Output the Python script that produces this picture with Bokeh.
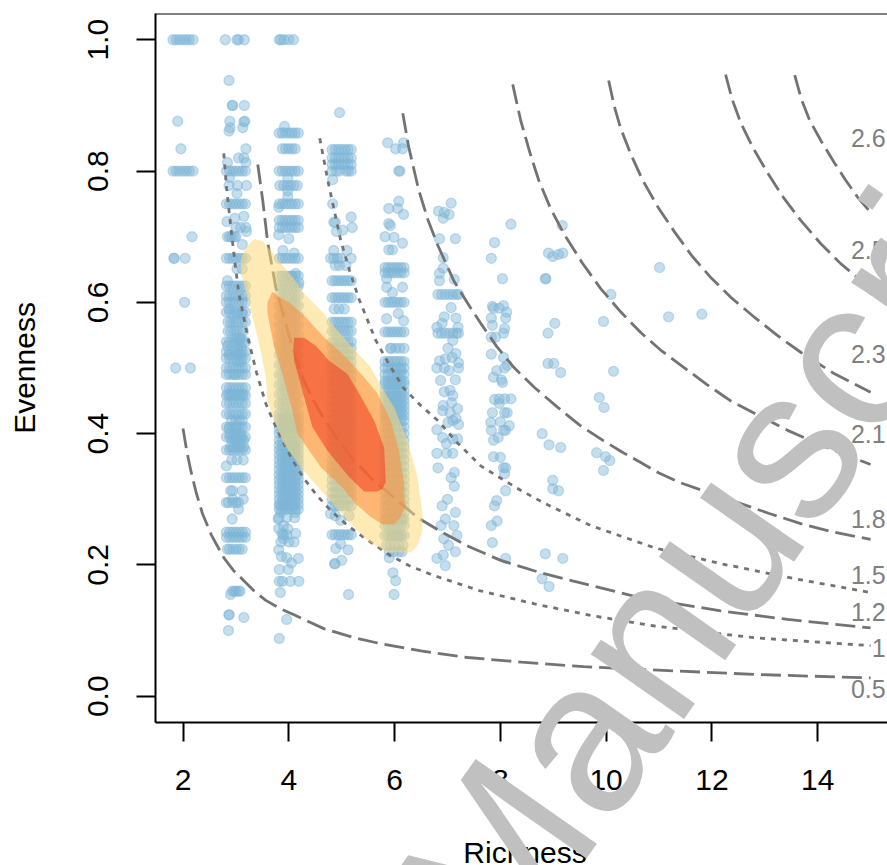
from bokeh.plotting import figure
from bokeh.layouts import column
from bokeh.models import Span, FixedTicker, ColumnDataSource, Range1d
from bokeh.core.properties import value
from bokeh.embed import file_html
from bokeh.resources import INLINE

x_ticks = [2, 4, 6, 8, 10, 12, 14]
y_ticks = [0.0, 0.2, 0.4, 0.6, 0.8, 1.0]
y_tick_labels = ["0.0", "0.2", "0.4", "0.6", "0.8", "1.0"]

# contour curves (richness, evenness)
c05_x = [2.0, 2.07, 2.147, 2.25, 2.369, 2.54, 2.771, 2.95, 3.15, 3.35, 3.565, 3.85, 4.13, 4.662, 5.2, 5.739, 6.5, 7.384, 8.4, 9.576, 10.654, 12.866, 15.0]
c05_y = [.408, .374, .344, .31, .278, .245, .211, .192, .176, .16, .146, .133, .123, .103, .09, .080, .069, .059, .052, .045, .041, .033, .028]
c10_x = [2.771, 2.828, 2.904, 2.98, 3.055, 3.225, 3.39, 3.565, 3.735, 3.906, 4.09, 4.284, 4.53, 4.794, 5.1, 5.418, 5.928, 6.3, 6.741, 7.6, 8.631, 9.708, 10.918, 12.809, 15.0]
c10_y = [.827, .771, .714, .662, .614, .547, .493, .446, .414, .385, .357, .332, .306, .283, .261, .242, .214, .198, .184, .161, .141, .123, .107, .089, .077]
c12_x = [3.414, 3.508, 3.603, 3.754, 3.943, 4.1, 4.284, 4.47, 4.662, 4.93, 5.229, 5.6, 5.985, 6.439, 6.873, 7.4, 8.008, 8.764, 9.652, 10.654, 12.166, 13.432, 15.0]
c12_y = [.810, .755, .690, .623, .568, .522, .481, .45, .423, .39, .359, .329, .303, .272, .251, .228, .207, .188, .170, .150, .130, .117, .104]
c15_x = [4.586, 4.737, 4.983, 5.15, 5.323, 5.645, 5.9, 6.174, 6.48, 6.817, 7.2, 7.629, 8.008, 8.4, 8.858, 9.708, 10.918, 12.166, 13.565, 15.0]
c15_y = [.850, .786, .694, .648, .606, .542, .505, .469, .444, .420, .385, .351, .332, .313, .293, .260, .226, .202, .179, .158]
c18_x = [6.155, 6.269, 6.457, 6.63, 6.817, 7.119, 7.37, 7.629, 7.93, 8.253, 8.65, 9.085, 9.5, 9.954, 10.3, 10.654, 11.0, 11.410, 11.95, 12.488, 13.1, 13.679, 14.3, 15.0]
c18_y = [.888, .836, .771, .726, .687, .633, .60, .568, .533, .501, .47, .440, .413, .389, .372, .356, .34, .325, .31, .295, .278, .263, .25, .239]
c21_x = [8.234, 8.385, 8.574, 8.726, 8.95, 9.198, 9.55, 9.897, 10.27, 10.654, 11.05, 11.467, 11.9, 12.355, 12.9, 13.432, 14.2, 15.0]
c21_y = [.932, .877, .824, .786, .743, .705, .66, .621, .586, .554, .526, .501, .475, .450, .427, .405, .378, .353]
c23_x = [10.048, 10.15, 10.275, 10.47, 10.691, 10.98, 11.296, 11.62, 11.977, 12.38, 12.809, 13.23, 13.679, 14.3, 15.0]
c23_y = [.938, .90, .865, .825, .786, .745, .707, .671, .638, .606, .577, .55, .524, .492, .463]
c25_x = [12.259, 12.38, 12.543, 12.78, 13.054, 13.35, 13.679, 14.05, 14.435, 15.0]
c25_y = [.947, .91, .874, .835, .797, .76, .725, .69, .659, .621]
c26_x = [13.565, 13.69, 13.849, 14.07, 14.321, 14.53, 14.756, 15.0]
c26_y = [.946, .91, .877, .845, .812, .786, .760, .737]

curve_labels = ["2.6", "2.5", "2.3", "2.1", "1.8", "1.5", "1.2", "1", "0.5"]
curve_label_y = [.850, .679, .522, .400, .270, .185, .129, .074, .011]
curve_label_x = [15.285] * 9

# density polygons
outer_x = [3.345, 3.502, 3.660, 3.849, 4.069, 4.290, 4.605, 4.920, 5.235, 5.550, 5.739, 5.991, 6.243, 6.432, 6.527, 6.527, 6.432, 6.306, 5.865, 5.487, 5.109, 4.668, 4.227, 3.912, 3.723, 3.597, 3.565, 3.439, 3.250, 3.093, 3.093, 3.187]
outer_y = [.696, .694, .679, .659, .639, .613, .588, .557, .529, .501, .473, .440, .390, .334, .278, .252, .229, .219, .219, .237, .268, .308, .349, .384, .420, .450, .486, .537, .598, .646, .666, .684]
mid_x = [3.691, 3.817, 4.006, 4.290, 4.668, 5.046, 5.424, 5.676, 5.928, 6.086, 6.180, 6.193, 6.117, 5.991, 5.771, 5.550, 5.267, 5.015, 4.605, 4.164, 4.069, 3.880, 3.723, 3.597, 3.597]
mid_y = [.616, .608, .600, .580, .547, .519, .486, .461, .420, .374, .323, .288, .273, .262, .262, .273, .293, .318, .349, .400, .435, .491, .532, .583, .600]
inner_x = [4.101, 4.290, 4.510, 4.763, 5.109, 5.330, 5.613, 5.802, 5.834, 5.771, 5.676, 5.424, 5.140, 4.731, 4.447, 4.290, 4.101, 4.088]
inner_y = [.546, .546, .534, .511, .491, .461, .420, .379, .326, .316, .312, .312, .334, .374, .410, .456, .511, .532]

# points: rows where many jittered sites share one evenness value
band2 = [1.81, 1.87, 1.93, 2.0, 2.06, 2.12, 2.19]
band3 = [2.82, 2.88, 2.94, 3.0, 3.06, 3.12, 3.18]
band4 = [3.82, 3.88, 3.94, 4.0, 4.06, 4.12, 4.18]
band5 = [4.82, 4.88, 4.94, 5.0, 5.06, 5.12, 5.18]
band6 = [5.82, 5.88, 5.94, 6.0, 6.06, 6.12, 6.18]
band7 = [6.82, 6.89, 6.96, 7.03, 7.1, 7.17, 7.21]
rows2 = [1.0, .8]
rows3 = [.8, .75, .667, .625, .61, .6, .585, .54, .525, .515, .5, .49, .47, .458, .446, .43, .41, .395, .375, .333, .25, .242]
rows4 = [.858, .8, .75, .725, .714, .667, .64, .625, .61, .595, .58, .565, .55, .535, .52, .505, .49, .475, .46, .445, .43,
         .4225, .415, .4075, .40, .39, .3825, .375, .3675, .36, .3525, .345, .3375, .33, .3225, .315, .3075, .30, .2925, .285]
rows5 = [.833, .82, .81, .633, .607, .57, .556, .54, .53, .52, .51, .50, .49, .48, .47, .46, .45, .44, .43, .42, .41, .40,
         .39, .38, .37, .36, .35, .34, .33, .32, .31, .30, .29, .246]
rows6 = [.653, .645, .60, .555, .51, .5, .49, .48, .475, .465, .4575, .45, .4425, .435, .4275, .42, .41, .40, .39, .38, .37, .36, .35, .34,
         .33, .32, .31, .30, .29, .28, .27, .26, .245]
rows7 = [.612, .553]

# single points
col2_x = [1.90, 1.96, 2.17, 1.83, 1.83, 2.04, 2.03, 1.86, 2.14]
col2_y = [.876, .834, .70, .667, .667, .667, .60, .50, .50]
col3_x = [2.80, 3.02, 3.05, 3.16, 2.87, 2.93, 2.94, 3.16, 2.885, 3.17, 2.89, 3.13, 2.87, 3.15, 3.19, 3.05, 3.15, 2.84, 3.19,
          2.87, 3.03, 3.2, 3.02, 2.88, 3.15, 2.98, 2.83, 2.84, 2.88, 2.92, 2.97, 3.0, 3.0, 3.09, 3.19, 3.2, 3.12, 3.02, 3.12, 2.84,
          2.87, 3.02, 3.12, 2.85, 2.9, 2.95, 3.0, 3.05, 3.12, 3.18, 2.85, 2.9, 2.96, 3.02, 3.08, 3.14, 3.0, 3.06, 3.1, 2.84, 3.04, 3.1,
          2.88, 3.02, 3.08, 3.03, 3.1, 2.98, 2.85, 2.9, 2.96, 3.02, 3.08, 3.14, 2.92, 3.0, 3.06, 3.12, 2.87, 3.0, 2.89, 2.98, 3.03, 3.09,
          2.92, 2.98, 3.04, 3.1, 3.15, 2.9, 2.96, 3.02, 3.08, 3.15, 2.92, 3.02, 3.14, 2.82, 2.9, 2.94, 3.12, 2.94, 3.14,
          2.82, 2.86, 2.94, 3.0, 3.05, 3.05, 2.93, 2.84, 2.88, 2.94, 3.0, 3.06, 3.12, 2.93, 2.97, 3.0, 3.05, 3.08, 2.9, 2.87, 2.87, 3.15, 2.86]
col3_y = [1.0, 1.0, 1.0, 1.0, .938, .9, .9, .9, .876, .876, .866, .866, .861, .875, .834, .82, .82, .813, .813,
          .778, .778, .778, .766, .79, .731, .728, .723, .70, .70, .70, .70, .70, .714, .714, .714, .708, .688, .651, .651, .633,
          .59, .583, .583, .57, .57, .57, .57, .57, .57, .57, .556, .556, .556, .556, .556, .556, .545, .545, .545, .534, .53, .53,
          .52, .52, .52, .51, .51, .49, .46, .46, .46, .46, .46, .46, .42, .42, .42, .42, .408, .408, .40, .40, .40, .40,
          .39, .39, .39, .39, .39, .38, .38, .38, .38, .38, .36, .36, .36, .351, .313, .313, .313, .30, .30,
          .295, .295, .295, .295, .295, .285, .27, .224, .224, .224, .224, .224, .224, .16, .16, .16, .16, .16, .155, .124, .124, .12, .10]
col4_x = [3.82, 3.85, 3.91, 4.0, 4.09, 3.92, 3.88, 3.94, 4.0, 4.06, 4.12, 3.83, 3.9, 3.97, 4.03, 4.1, 4.16, 3.98, 3.98, 3.81, 3.98, 3.81, 4.0,
          3.89, 4.1, 4.13, 4.19, 4.05, 3.81, 3.96, 4.11, 3.98, 3.81, 3.9, 3.96, 3.87, 4.13, 4.18, 3.81, 3.96, 3.86, 4.05, 3.9, 3.82, 3.99,
          3.82, 3.88, 4.03, 4.19, 3.84, 3.96, 3.9, 3.85, 4.0, 4.1, 3.8, 3.83, 3.9, 3.98, 4.08, 3.85, 4.12, 3.82]
col4_y = [1.0, 1.0, 1.0, 1.0, 1.0, .868, .834, .834, .834, .834, .834, .778, .778, .778, .778, .778, .778, .789, .77, .745, .761, .703, .697,
          .679, .675, .644, .63, .64, .272, .272, .272, .255, .255, .246, .246, .248, .248, .21, .223, .211, .213, .203, .26, .193, .193,
          .175, .175, .175, .175, .158, .117, .24, .235, .235, .235, .27, .29, .29, .29, .29, .28, .28, .088]
col5_x = [4.96, 5.13, 4.82, 4.9, 4.96, 5.08, 5.18, 4.83, 4.83, 4.85, 5.18, 5.2, 4.9, 4.88, 5.02, 4.85, 5.1, 4.79, 4.85, 4.92, 4.98, 5.18, 4.88,
          4.96, 5.08, 5.05, 4.86, 4.95, 4.88, 5.14, 4.79, 4.98, 4.89, 5.12, 4.98, 5.0, 4.87, 4.87, 5.13]
col5_y = [.889, .80, .80, .80, .80, .80, .80, .787, .75, .722, .73, .714, .708, .722, .71, .679, .679, .667, .667, .667, .667, .667, .656,
          .656, .656, .59, .59, .59, .275, .275, .278, .268, .225, .223, .232, .207, .202, .202, .155]
col6_x = [5.87, 6.02, 6.17, 6.15, 6.08, 6.1, 6.08, 5.89, 6.06, 6.17, 5.89, 5.92, 5.82, 5.99, 6.15, 5.89, 5.96, 5.85, 5.85, 6.15, 5.96, 6.07,
          5.85, 6.17, 5.92, 6.02, 6.1, 6.18, 5.94, 6.0, 6.06, 6.12, 5.85, 5.95, 6.05, 6.15, 5.85, 5.92, 6.0, 6.08, 6.16, 5.9, 5.98, 6.08, 6.14, 5.95, 6.05, 6.12,
          5.9, 5.97, 6.02, 5.99]
col6_y = [.843, .834, .843, .834, .80, .80, .754, .743, .743, .734, .72, .717, .70, .699, .69, .68, .68, .636, .623, .623, .615, .583,
          .575, .572, .53, .53, .53, .53, .53, .496, .485, .496, .27, .27, .27, .27, .23, .23, .23, .23, .23, .22, .22, .22, .22, .245, .245, .245,
          .211, .188, .176, .155]
col7_x = [7.07, 6.83, 6.94, 7.03, 6.92, 6.85, 7.15, 6.92, 6.92, 6.85, 6.85, 7.13, 7.07, 7.16, 6.94, 6.9, 6.8, 7.2, 7.1, 7.01, 7.16,
          6.85, 6.96, 7.09, 7.21, 6.8, 6.94, 7.21, 7.03, 6.87, 7.15, 6.94, 7.05, 7.1, 7.08, 6.92, 7.19, 7.05, 6.91, 7.01, 7.16, 7.21, 7.1,
          6.8, 6.91, 7.1, 7.19, 6.98, 6.8, 6.98, 7.1, 6.82, 7.13, 7.07, 7.13, 7.0, 6.9, 7.15, 6.96, 6.88, 7.12, 6.93, 7.18, 7.15, 7.02, 6.92, 6.8, 6.96]
col7_y = [.751, .739, .737, .734, .728, .697, .697, .668, .652, .644, .633, .635, .592, .576, .578, .568, .562, .562, .542, .53, .522,
          .511, .514, .516, .508, .50, .50, .50, .496, .481, .482, .464, .466, .458, .447, .443, .438, .432, .435, .417, .423, .414, .42,
          .406, .394, .392, .392, .385, .37, .37, .37, .348, .341, .333, .32, .30, .29, .28, .27, .26, .26, .24, .245, .22, .23, .215, .21, .199]
col8_x = [8.2, 7.89, 7.83, 8.04, 7.85, 8.06, 7.87, 7.98, 8.12, 7.83, 8.1, 7.85, 8.08, 8.06, 7.83, 7.91, 7.83, 8.06, 8.13, 8.08, 7.93, 7.87, 8.02, 8.04,
          7.89, 7.98, 8.08, 8.2, 7.98, 7.85, 8.08, 8.13, 7.82, 8.0, 8.17, 7.83, 8.06, 8.1, 7.96, 7.87, 7.87, 8.0, 8.06, 8.08, 8.1, 8.1, 7.93, 7.89, 7.83, 7.94, 7.85, 8.1]
col8_y = [.719, .691, .667, .636, .594, .595, .591, .591, .585, .576, .576, .565, .56, .553, .547, .547, .521, .516, .504, .50, .496, .486, .482, .478,
          .452, .453, .453, .453, .446, .432, .432, .432, .417, .418, .412, .405, .405, .405, .394, .39, .365, .364, .348, .339, .348, .313, .298, .29, .26, .267, .234, .21]
col9_x = [9.17, 8.91, 8.99, 9.1, 9.18, 8.85, 8.86, 9.03, 8.9, 8.9, 9.01, 9.14, 8.79, 8.92, 9.14, 8.99, 8.99, 9.1, 8.85, 9.18, 8.79, 8.92]
col9_y = [.717, .675, .67, .673, .675, .636, .636, .568, .553, .507, .507, .493, .40, .383, .379, .329, .316, .313, .217, .21, .179, .167]
col10_x = [10.09, 9.95, 10.14, 9.87, 9.96, 9.82, 9.99, 10.07, 9.95]
col10_y = [.612, .571, .495, .455, .44, .371, .365, .359, .344]
col11_x = [11.01, 11.18, 11.81]
col11_y = [.653, .578, .582]

watermark = ["Manuscript"]
watermark_x = [714]
watermark_y = [502]
x_title = ["Richness"]
x_title_x = [373]
x_title_y = [852]

pts_x, pts_y = [], []
for band, rows in [(band2, rows2), (band3, rows3), (band4, rows4), (band5, rows5), (band6, rows6), (band7, rows7)]:
    for r in rows:
        pts_x += band
        pts_y += [r] * len(band)
for xs, ys in [(col2_x, col2_y), (col3_x, col3_y), (col4_x, col4_y), (col5_x, col5_y), (col6_x, col6_y),
               (col7_x, col7_y), (col8_x, col8_y), (col9_x, col9_y), (col10_x, col10_y), (col11_x, col11_y)]:
    pts_x += xs
    pts_y += ys

FONT = "Liberation Sans"
p = figure(width=887, height=865, x_range=(1.48, 15.32), y_range=(-0.04, 1.04),
           output_backend="svg", toolbar_location=None,
           min_border_left=155, min_border_right=0, min_border_top=13, min_border_bottom=143,
           y_axis_label="Evenness")
p.outline_line_color = None
p.grid.visible = False
for ax in (p.xaxis[0], p.yaxis[0]):
    ax.axis_line_width = 2
    ax.axis_line_color = "black"
    ax.major_tick_line_width = 2
    ax.major_tick_line_color = "black"
    ax.major_tick_out = 19
    ax.major_tick_in = 0
    ax.minor_tick_line_color = None
    ax.major_label_text_font = FONT
    ax.major_label_text_font_size = "30px"
    ax.major_label_text_color = "black"
    ax.axis_label_text_font = FONT
    ax.axis_label_text_font_size = "30px"
    ax.axis_label_text_font_style = "normal"
    ax.axis_label_text_color = "black"
p.xaxis[0].ticker = FixedTicker(ticks=x_ticks)
p.xaxis[0].major_label_standoff = 28
p.yaxis[0].ticker = FixedTicker(ticks=y_ticks)
p.yaxis[0].major_label_overrides = {t: s for t, s in zip(y_ticks, y_tick_labels)}
p.yaxis[0].major_label_orientation = "vertical"
p.yaxis[0].major_label_standoff = 28
p.yaxis[0].axis_label_standoff = 45
p.add_layout(Span(location=1.04, dimension="width", line_color="black", line_width=2))

BLUE = "#7fb5d8"
p.scatter(pts_x, pts_y, size=10, fill_color=BLUE, fill_alpha=0.45, line_color=BLUE, line_alpha=0.45, line_width=1.3)

GREY = "#737373"
for xs, ys, dash in [(c05_x, c05_y, "20 7"), (c10_x, c10_y, "5 6"), (c12_x, c12_y, "20 7"), (c15_x, c15_y, "5 6"),
                     (c18_x, c18_y, "20 7"), (c21_x, c21_y, "20 7"), (c23_x, c23_y, "20 7"), (c25_x, c25_y, "20 7"), (c26_x, c26_y, "20 7")]:
    p.line(xs, ys, line_color=GREY, line_width=2.8, line_dash=dash)

for xs, ys, col in [(outer_x, outer_y, "#FED976"), (mid_x, mid_y, "#FD8D3C"), (inner_x, inner_y, "#F03B20")]:
    p.patch(xs, ys, fill_color=col, fill_alpha=0.55, line_color=None)

src = ColumnDataSource(dict(x=curve_label_x, y=curve_label_y, t=curve_labels))
p.text("x", "y", text="t", source=src, text_align="right", text_baseline="middle",
       text_font=value(FONT), text_font_size="25px", text_color="#7f7f7f")

# transparent layer over the whole page, so the stamp may run across the axes
stamp = figure(width=887, height=865, x_range=Range1d(0, 887), y_range=Range1d(865, 0),
               output_backend="svg", toolbar_location=None, x_axis_location=None, y_axis_location=None,
               min_border=0, margin=(-865, 0, 0, 0), background_fill_color=None, border_fill_color=None)
stamp.outline_line_color = None
stamp.grid.visible = False
stamp.text(x_title_x, x_title_y, text=x_title, text_align="left", text_baseline="middle",
           text_font=value(FONT), text_font_size="30px", text_color="black")
stamp.text(watermark_x, watermark_y, text=watermark, angle=55, angle_units="deg", text_align="center",
           text_baseline="alphabetic", text_font=value(FONT), text_font_size="215px", text_color="#c0c0c0")

open("out.html", "w").write(file_html(column(p, stamp, spacing=0), INLINE))
